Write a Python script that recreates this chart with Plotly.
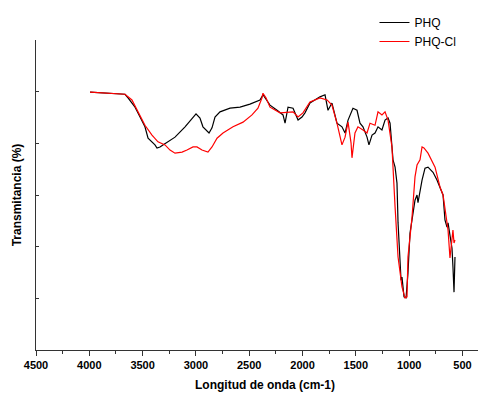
import plotly.graph_objects as go

# PHQ (black)
phq_w = [3993, 3806, 3665, 3637, 3571, 3524, 3478, 3449, 3412, 3384, 3365, 3337, 3309, 3262, 3196, 3102,
         2999, 2962, 2934, 2877, 2849, 2821, 2774, 2680, 2586, 2493, 2399, 2371, 2352, 2305, 2239, 2183,
         2164, 2136, 2089, 2042, 2005, 1977, 1930, 1836, 1789, 1761, 1724, 1677, 1630, 1601, 1573, 1527,
         1489, 1461, 1433, 1395, 1377, 1348, 1320, 1292, 1255, 1226, 1198, 1179, 1151, 1132, 1114, 1104,
         1076, 1067, 1048, 1029, 1011, 992, 973, 945, 926, 917, 879, 851, 823, 776, 739, 710, 682, 664,
         645, 635, 617, 598, 589, 579, 570]
phq_t = [49.9, 49.7, 49.5, 48.8, 47.0, 45.1, 43.2, 41.0, 40.3, 39.7, 39.1, 39.3, 39.7, 40.3, 41.2, 43.2,
         45.7, 44.9, 43.2, 42.0, 43.0, 45.1, 46.1, 46.8, 47.0, 47.6, 48.4, 49.4, 48.8, 47.4, 46.4, 45.5,
         43.9, 47.0, 46.8, 44.5, 45.1, 45.9, 47.8, 49.0, 49.4, 46.4, 47.8, 43.9, 43.2, 42.0, 44.5, 46.8,
         46.4, 43.9, 43.2, 41.2, 39.7, 41.6, 42.0, 43.2, 42.6, 44.5, 44.9, 43.9, 36.8, 35.4, 32.3, 24.6,
         13.5, 14.1, 10.3, 10.1, 14.9, 22.6, 25.2, 29.0, 30.0, 28.5, 32.9, 35.2, 35.4, 34.4, 32.9, 31.4, 30.0, 25.2,
         23.8, 24.6, 21.9, 19.7, 16.1, 11.2, 18.0]

# PHQ-Cl (red)
phqcl_w = [3993, 3806, 3665, 3600, 3543, 3478, 3412, 3356, 3290, 3243, 3196, 3130, 3084, 3027, 2990, 2943,
           2887, 2849, 2802, 2746, 2652, 2558, 2474, 2418, 2380, 2371, 2343, 2305, 2211, 2136, 2089, 2042,
           1996, 1930, 1836, 1770, 1724, 1677, 1630, 1601, 1573, 1545, 1536, 1508, 1480, 1433, 1395, 1367,
           1320, 1292, 1255, 1226, 1198, 1161, 1151, 1132, 1104, 1067, 1039, 1020, 1011, 973, 945, 926, 898,
           879, 861, 823, 757, 710, 682, 664, 635, 617, 598, 589, 579, 570]
phqcl_t = [49.9, 49.7, 49.5, 48.4, 46.1, 43.5, 41.6, 40.3, 39.7, 38.7, 38.1, 38.3, 38.7, 39.3, 39.3, 38.7,
           38.3, 39.3, 41.0, 42.0, 43.2, 44.1, 45.5, 46.8, 48.8, 49.7, 48.8, 47.0, 45.9, 46.1, 46.1, 45.1,
           45.9, 48.0, 48.8, 48.4, 47.4, 43.9, 39.7, 41.2, 44.1, 40.1, 37.2, 42.0, 43.2, 42.6, 42.0, 43.9,
           43.5, 46.1, 45.5, 46.1, 44.5, 39.3, 34.8, 27.7, 18.0, 12.2, 10.1, 10.3, 18.0, 25.7, 33.5, 35.8, 36.8,
           39.3, 39.1, 38.1, 35.4, 31.5, 30.0, 27.1, 23.2, 17.8, 21.9, 23.2, 20.7, 21.3]

x_ticks = [4500, 4000, 3500, 3000, 2500, 2000, 1500, 1000, 500]
x_labels = ["4500", "4000", "3500", "3000", "2500", "2000", "1500", "1000", "500"]

FONT = "Arial, Liberation Sans, sans-serif"

fig = go.Figure()
fig.add_trace(go.Scatter(x=phq_w, y=phq_t, mode="lines", name="PHQ",
                         line=dict(color="black", width=1.2)))
fig.add_trace(go.Scatter(x=phqcl_w, y=phqcl_t, mode="lines", name="PHQ-Cl",
                         line=dict(color="red", width=1.2)))

fig.update_layout(
    width=486, height=396,
    margin=dict(l=28, r=0, t=0, b=54),
    paper_bgcolor="white", plot_bgcolor="white",
    font=dict(family=FONT, color="black"),
    showlegend=True,
    legend=dict(x=0.739, y=1.0, xanchor="left", yanchor="top",
                bgcolor="rgba(0,0,0,0)", font=dict(size=12, family=FONT),
                tracegroupgap=0, itemwidth=30),
    xaxis=dict(
        range=[4500, 204], autorange=False, automargin=False,
        tickmode="array", tickvals=x_ticks, ticktext=x_labels,
        tickfont=dict(size=11, family=FONT, weight="bold"),
        ticks="outside", ticklen=5, tickwidth=1, tickcolor="#333",
        minor=dict(dtick=250, ticks="outside", ticklen=3, tickcolor="#333", showgrid=False),
        showline=True, linecolor="#333", linewidth=1.2,
        showgrid=False, zeroline=False,
        title=dict(text="<b>Longitud de onda (cm-1)</b>", font=dict(size=12, family=FONT), standoff=10),
    ),
    yaxis=dict(
        domain=[0, 0.9064],
        range=[0, 60], autorange=False, automargin=False,
        dtick=10, tick0=0, showticklabels=False,
        ticks="inside", ticklen=3, tickwidth=1, tickcolor="#333",
        showline=True, linecolor="#333", linewidth=1.2,
        showgrid=False, zeroline=False,
        title=dict(text="<b>Transmitancia (%)</b>", font=dict(size=12, family=FONT), standoff=10),
    ),
)

fig.write_html("out.html")
